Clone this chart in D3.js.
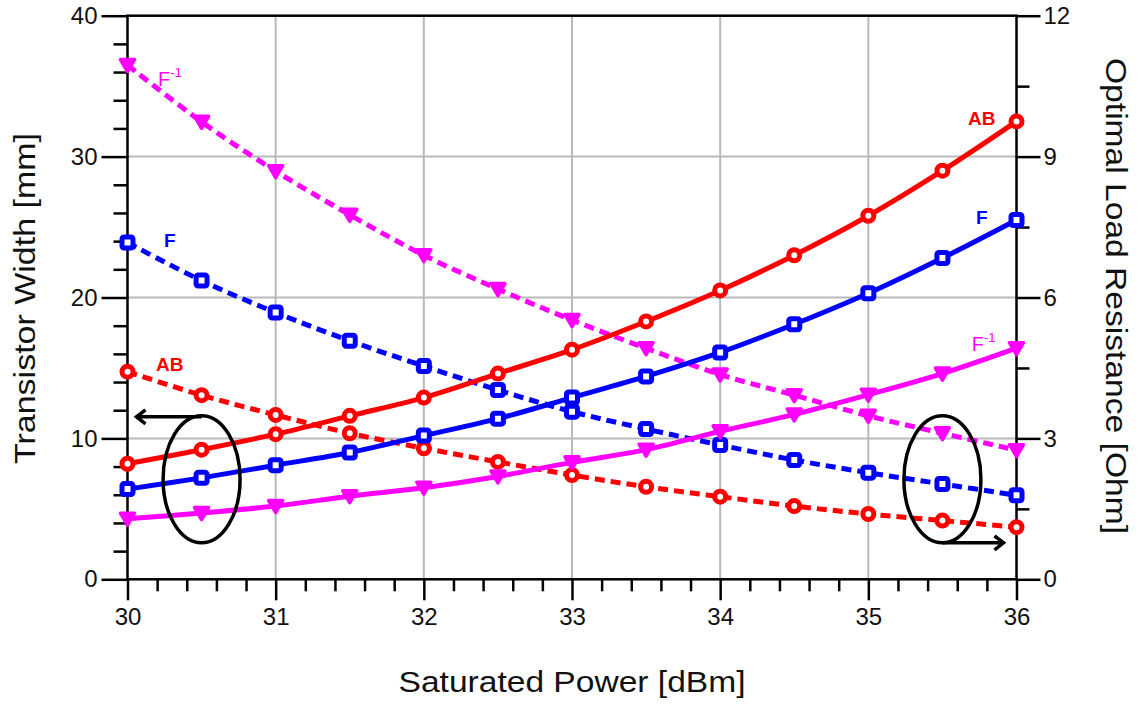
<!DOCTYPE html>
<html><head><meta charset="utf-8">
<script src="https://cdn.jsdelivr.net/npm/d3@7/dist/d3.min.js"></script>
<style>
html,body{margin:0;padding:0;background:#fff;}
svg{display:block;font-family:"Liberation Sans",Arial,sans-serif;}
</style></head>
<body>
<svg id="chart" width="1140" height="704"></svg>
<script>
// ---------- data ----------
const power = [30, 30.5, 31, 31.5, 32, 32.5, 33, 33.5, 34, 34.5, 35, 35.5, 36];
// Transistor width [mm] (left axis, solid lines)
const widthAB = [8.2, 9.2, 10.3, 11.6, 12.9, 14.6, 16.3, 18.3, 20.5, 23.0, 25.8, 29.0, 32.5];
const widthF  = [6.4, 7.2, 8.1, 9.0, 10.2, 11.4, 12.9, 14.4, 16.1, 18.1, 20.3, 22.8, 25.5];
const widthFinv = [4.3, 4.7, 5.2, 5.9, 6.5, 7.3, 8.3, 9.2, 10.5, 11.7, 13.1, 14.6, 16.4];
// Optimal load resistance [Ohm] (right axis, dashed lines)
const resAB = [4.42, 3.92, 3.50, 3.11, 2.79, 2.50, 2.22, 1.97, 1.76, 1.56, 1.39, 1.25, 1.11];
const resF  = [7.17, 6.36, 5.68, 5.08, 4.54, 4.03, 3.57, 3.20, 2.86, 2.54, 2.27, 2.03, 1.79];
const resFinv = [10.95, 9.74, 8.69, 7.76, 6.90, 6.18, 5.52, 4.92, 4.36, 3.92, 3.48, 3.11, 2.75];

const xTicks = [30, 31, 32, 33, 34, 35, 36];
const yLeftTicks = [0, 10, 20, 30, 40];
const yRightTicks = [0, 3, 6, 9, 12];

const xTitle = "Saturated Power [dBm]";
const yLeftTitle = "Transistor Width [mm]";
const yRightTitle = "Optimal Load Resistance [Ohm]";

// ---------- layout ----------
const svg = d3.select("#chart");
const L = 127.5, R = 1016.5, T = 15.7, B = 579.3;
const x = d3.scaleLinear().domain([30, 36]).range([L, R]);
const yL = d3.scaleLinear().domain([0, 40]).range([B, T]);
const yR = d3.scaleLinear().domain([0, 12]).range([B, T]);

const RED = "#ff0000", BLUE = "#0000ff", MAG = "#ff00ff";
const GRID = "#b9b9b9";

// grid
const g = svg.append("g");
g.selectAll(".vg").data(d3.range(31, 36)).join("line")
  .attr("x1", d => x(d)).attr("x2", d => x(d)).attr("y1", T).attr("y2", B)
  .attr("stroke", GRID).attr("stroke-width", 2);
g.selectAll(".hg").data([10, 20, 30]).join("line")
  .attr("x1", L).attr("x2", R).attr("y1", d => yL(d)).attr("y2", d => yL(d))
  .attr("stroke", GRID).attr("stroke-width", 2);

// axes
const fontTick = 24;
const xAxis = d3.axisBottom(x).tickValues(xTicks).tickSize(21).tickPadding(8).tickFormat(d3.format("d"));
const xAxisMinor = d3.axisBottom(x).tickValues(d3.range(30, 36.01, 0.2).filter(v => Math.abs(v - Math.round(v)) > 0.01)).tickSize(12).tickFormat("");
const yLAxis = d3.axisLeft(yL).tickValues(yLeftTicks).tickSize(26).tickPadding(4);
const yLAxisMinor = d3.axisLeft(yL).tickValues(d3.range(2, 40, 2).filter(v => v % 10 !== 0)).tickSize(14).tickFormat("");
const yRAxis = d3.axisRight(yR).tickValues(yRightTicks).tickSize(24).tickPadding(3);
const yRAxisMinor = d3.axisRight(yR).tickValues([1.5, 4.5, 7.5, 10.5]).tickSize(13).tickFormat("");

function styleAxis(sel) {
  sel.select(".domain").remove();
  sel.selectAll(".tick line").attr("stroke", "#000").attr("stroke-width", 2.5);
  sel.selectAll(".tick text").attr("font-size", fontTick).attr("fill", "#111")
    .attr("font-family", "'Liberation Sans', Arial, sans-serif");
}
svg.append("g").attr("transform", `translate(0,${B})`).call(xAxis).call(styleAxis);
svg.append("g").attr("transform", `translate(0,${B})`).call(xAxisMinor).call(styleAxis);
svg.append("g").attr("transform", `translate(${L},0)`).call(yLAxis).call(styleAxis);
svg.append("g").attr("transform", `translate(${L},0)`).call(yLAxisMinor).call(styleAxis);
svg.append("g").attr("transform", `translate(${R},0)`).call(yRAxis).call(styleAxis);
svg.append("g").attr("transform", `translate(${R},0)`).call(yRAxisMinor).call(styleAxis);

// frame
svg.append("rect").attr("x", L).attr("y", T).attr("width", R - L).attr("height", B - T)
  .attr("fill", "none").attr("stroke", "#000").attr("stroke-width", 2.5);

// ---------- series ----------
const series = [
  {vals: resFinv, y: yR, color: MAG, dash: "10,6", marker: "tri"},
  {vals: resF, y: yR, color: BLUE, dash: "10,6", marker: "sq"},
  {vals: resAB, y: yR, color: RED, dash: "10,6", marker: "circ"},
  {vals: widthFinv, y: yL, color: MAG, dash: null, marker: "tri"},
  {vals: widthF, y: yL, color: BLUE, dash: null, marker: "sq"},
  {vals: widthAB, y: yL, color: RED, dash: null, marker: "circ"},
];

const plot = svg.append("g");
series.forEach(s => {
  const pts = power.map((p, i) => [x(p), s.y(s.vals[i])]);
  plot.append("path")
    .attr("d", d3.line().curve(d3.curveCatmullRom.alpha(0.5))(pts))
    .attr("fill", "none").attr("stroke", s.color).attr("stroke-width", 5)
    .attr("stroke-dasharray", s.dash);
  const m = plot.append("g");
  pts.forEach(([px, py]) => {
    if (s.marker === "circ") {
      m.append("circle").attr("cx", px).attr("cy", py).attr("r", 5.5)
        .attr("fill", "#fff").attr("stroke", s.color).attr("stroke-width", 5);
    } else if (s.marker === "sq") {
      m.append("rect").attr("x", px - 5.5).attr("y", py - 5.5).attr("width", 11).attr("height", 11)
        .attr("rx", 2).attr("fill", "#fff").attr("stroke", s.color).attr("stroke-width", 5);
    } else {
      m.append("path").attr("d", `M${px - 7},${py - 5.5} L${px + 7},${py - 5.5} L${px},${py + 6.5} Z`)
        .attr("fill", s.color).attr("stroke", s.color).attr("stroke-width", 3.5)
        .attr("stroke-linejoin", "round");
    }
  });
});

// ---------- series labels ----------
function label(px, py, txt, sup, color, bold, anchor) {
  const t = svg.append("text").attr("x", px).attr("y", py).attr("fill", color)
    .attr("font-size", bold ? 19 : 20).attr("font-weight", bold ? "bold" : "normal")
    .attr("text-anchor", anchor);
  t.append("tspan").text(txt);
  if (sup) t.append("tspan").attr("font-size", 13).attr("dy", -9).text(sup);
}
const last = power.length - 1;
label(x(power[last]) - 21, yL(widthAB[last]) + 3.5, "AB", null, RED, true, "end");
label(x(power[last]) - 29, yL(widthF[last]) + 3.5, "F", null, BLUE, true, "end");
label(x(power[last]) - 21, yL(widthFinv[last]) + 2.5, "F", "-1", MAG, false, "end");
label(x(power[0]) + 30.5, yR(resFinv[0]) + 21, "F", "-1", MAG, false, "start");
label(x(power[0]) + 36.5, yR(resF[0]) + 4, "F", null, BLUE, true, "start");
label(x(power[0]) + 28.5, yR(resAB[0]) - 1, "AB", null, RED, true, "start");

// ---------- ellipses & arrows ----------
const ann = svg.append("g").attr("stroke", "#000").attr("stroke-width", 3.5).attr("fill", "none");
const ecy = yL(7.1), erx = 38.5, ery = 63.5;
// left group -> left axis
const lcx = x(30.5);
ann.append("ellipse").attr("cx", lcx).attr("cy", ecy).attr("rx", erx).attr("ry", ery);
const lTipX = x(30) + 9, lY = ecy - ery + 1;
ann.append("path").attr("d", `M${lcx},${lY} L${lTipX},${lY} M${lTipX + 9},${lY - 7} L${lTipX},${lY} L${lTipX + 9},${lY + 7}`);
// right group -> right axis
const rcx = x(35.5);
ann.append("ellipse").attr("cx", rcx).attr("cy", ecy).attr("rx", erx).attr("ry", ery);
const rTipX = x(36) - 13, rY = ecy + ery;
ann.append("path").attr("d", `M${rcx},${rY} L${rTipX},${rY} M${rTipX - 9},${rY - 7} L${rTipX},${rY} L${rTipX - 9},${rY + 7}`);

// ---------- axis titles ----------
svg.append("text").attr("x", (L + R) / 2).attr("y", 692).attr("text-anchor", "middle")
  .attr("font-size", 29).attr("fill", "#111").text(xTitle)
  .attr("textLength", 347).attr("lengthAdjust", "spacingAndGlyphs");
svg.append("text").attr("transform", `translate(35,${(133 + 464) / 2}) rotate(-90)`)
  .attr("text-anchor", "middle").attr("font-size", 29).attr("fill", "#111").text(yLeftTitle)
  .attr("textLength", 331).attr("lengthAdjust", "spacingAndGlyphs");
svg.append("text").attr("transform", `translate(1106,${(58 + 534) / 2}) rotate(90)`)
  .attr("text-anchor", "middle").attr("font-size", 29).attr("fill", "#111").text(yRightTitle)
  .attr("textLength", 476).attr("lengthAdjust", "spacingAndGlyphs");
</script>
</body></html>
